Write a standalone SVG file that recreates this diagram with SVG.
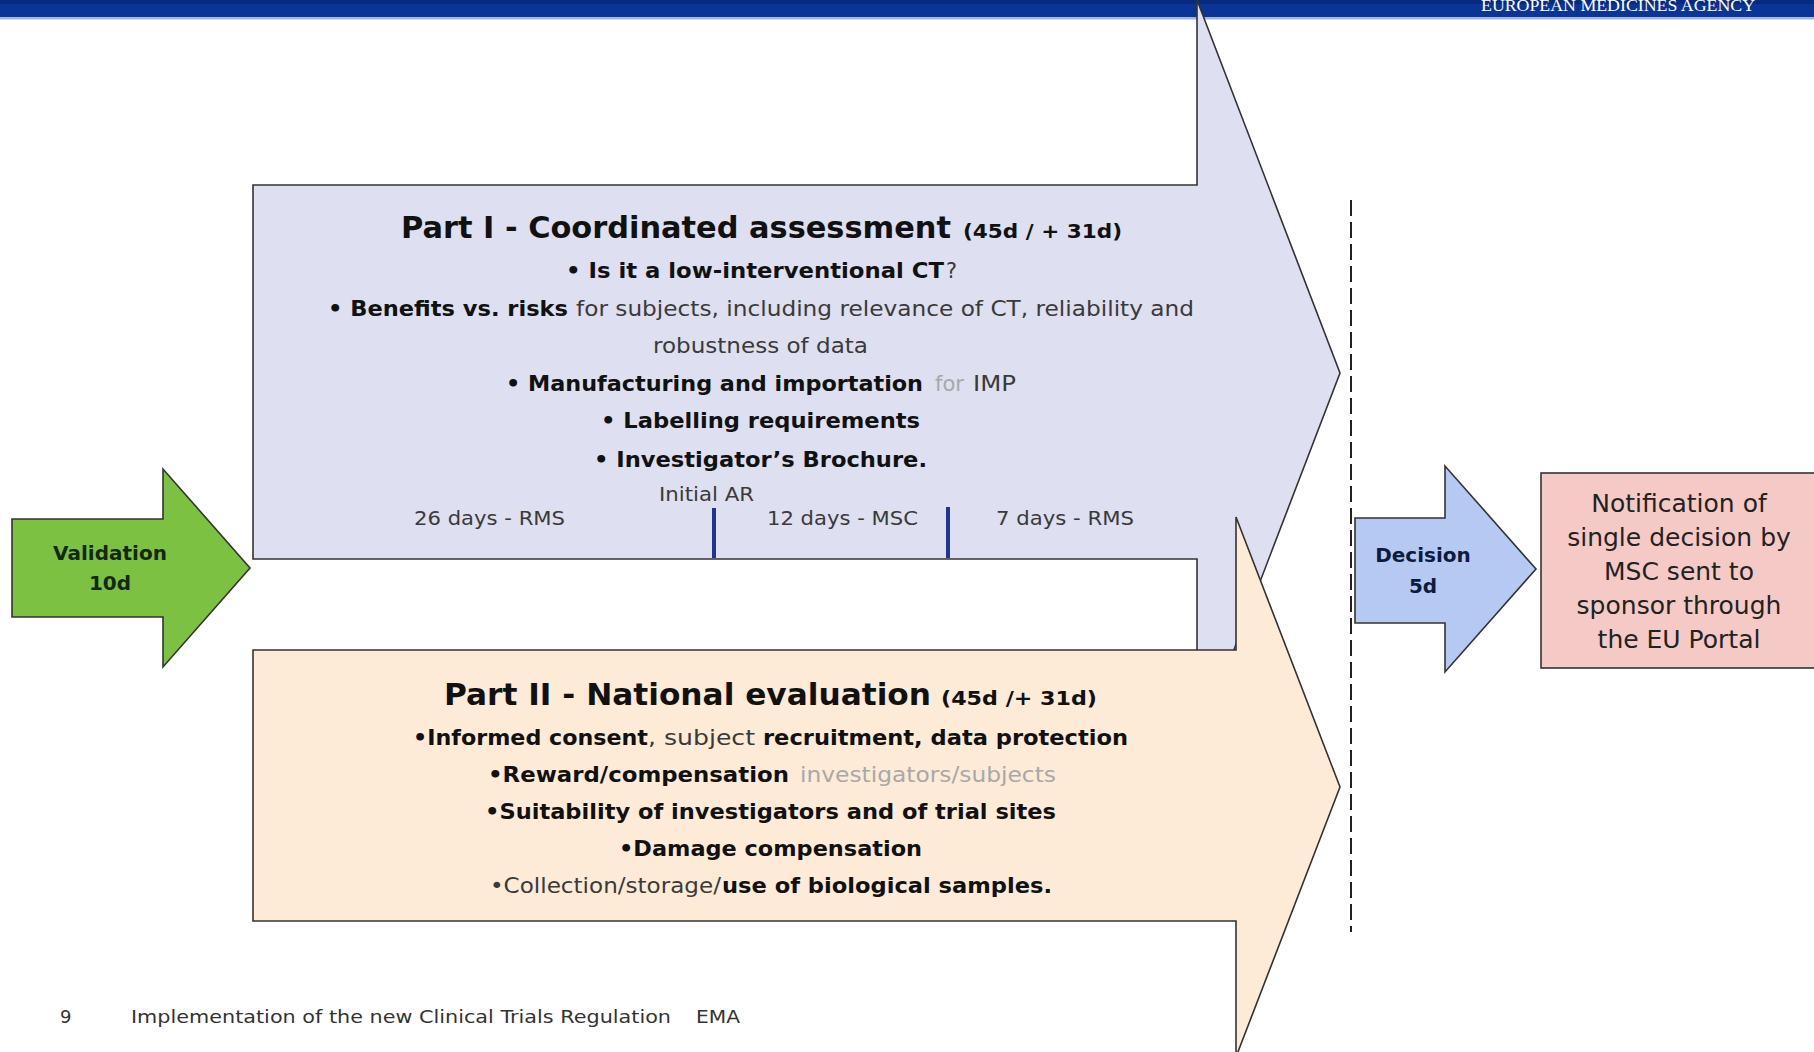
<svg xmlns="http://www.w3.org/2000/svg" width="1814" height="1052" viewBox="0 0 1814 1052">
  <style>
    .b { font-family: "DejaVu Sans", Verdana, sans-serif; font-weight: bold; fill: #111; }
    .n { font-family: "DejaVu Sans", Verdana, sans-serif; font-weight: normal; fill: #3a3a3a; }
    .faint { fill: #a8a8a8; }
    .shape { stroke: #333; stroke-width: 1.6; stroke-linejoin: miter; }
    .tick { fill: #1f3590; }
  </style>

  <rect x="0" y="0" width="1814" height="1052" fill="#ffffff"/>

  <!-- agency banner -->
  <g id="header">
    <rect x="0" y="0" width="1814" height="17" fill="#0a3596"/>
    <rect x="0" y="0" width="1814" height="4" fill="#062a7e"/>
    <rect x="0" y="17" width="1814" height="2.5" fill="#9db6e2"/>
    <text x="1481" y="11" font-family="'Liberation Serif', serif" font-size="16" fill="#ffffff" textLength="274" lengthAdjust="spacingAndGlyphs">EUROPEAN MEDICINES AGENCY</text>
  </g>

  <!-- Part I: coordinated assessment arrow -->
  <g id="part1">
    <polygon class="shape" fill="#dedff0" points="253,185 1197,185 1197,0 1340,373 1197,746 1197,559 253,559"/>
    <text class="b" x="401" y="238" font-size="30.5" textLength="550" lengthAdjust="spacingAndGlyphs">Part I - Coordinated assessment</text>
    <text class="b" x="963" y="238" font-size="19" textLength="159" lengthAdjust="spacingAndGlyphs">(45d / + 31d)</text>

    <text class="b" x="566" y="278" font-size="22" textLength="378" lengthAdjust="spacingAndGlyphs">• Is it a low-interventional CT</text>
    <text class="n" x="946" y="278" font-size="22" textLength="11" lengthAdjust="spacingAndGlyphs">?</text>

    <text class="b" x="328" y="316" font-size="22" textLength="240" lengthAdjust="spacingAndGlyphs">• Benefits vs. risks</text>
    <text class="n" x="576" y="316" font-size="22" textLength="618" lengthAdjust="spacingAndGlyphs">for subjects, including relevance of CT, reliability and</text>

    <text class="n" x="653" y="353" font-size="22" textLength="215" lengthAdjust="spacingAndGlyphs">robustness of data</text>

    <text class="b" x="506" y="391" font-size="22" textLength="417" lengthAdjust="spacingAndGlyphs">• Manufacturing and importation</text>
    <text class="n faint" x="935" y="391" font-size="22" textLength="29" lengthAdjust="spacingAndGlyphs">for</text>
    <text class="n" x="973" y="391" font-size="22" textLength="43" lengthAdjust="spacingAndGlyphs">IMP</text>

    <text class="b" x="601" y="428" font-size="22" textLength="319" lengthAdjust="spacingAndGlyphs">• Labelling requirements</text>
    <text class="b" x="594" y="467" font-size="22" textLength="333" lengthAdjust="spacingAndGlyphs">• Investigator’s Brochure.</text>

    <text class="n" x="659" y="501" font-size="20" fill="#555" textLength="95" lengthAdjust="spacingAndGlyphs">Initial AR</text>
    <text class="n" x="414" y="525" font-size="20" textLength="151" lengthAdjust="spacingAndGlyphs">26 days - RMS</text>
    <text class="n" x="767" y="525" font-size="20" textLength="151" lengthAdjust="spacingAndGlyphs">12 days - MSC</text>
    <text class="n" x="996" y="525" font-size="20" textLength="138" lengthAdjust="spacingAndGlyphs">7 days - RMS</text>

    <rect class="tick" x="712" y="508" width="4" height="50"/>
    <rect class="tick" x="946" y="507" width="4" height="51"/>
  </g>

  <!-- Part II: national evaluation arrow -->
  <g id="part2">
    <polygon class="shape" fill="#fdebd8" points="253,650 1236,650 1236,517 1340,787 1236,1057 1236,921 253,921"/>
    <text class="b" x="444" y="705" font-size="30.5" textLength="487" lengthAdjust="spacingAndGlyphs">Part II - National evaluation</text>
    <text class="b" x="941" y="705" font-size="19" textLength="156" lengthAdjust="spacingAndGlyphs">(45d /+ 31d)</text>

    <text class="b" x="413" y="745" font-size="22" textLength="235" lengthAdjust="spacingAndGlyphs">•Informed consent</text>
    <text class="n" x="648" y="745" font-size="22" textLength="107" lengthAdjust="spacingAndGlyphs">, subject</text>
    <text class="b" x="763" y="745" font-size="22" textLength="365" lengthAdjust="spacingAndGlyphs">recruitment, data protection</text>

    <text class="b" x="488" y="782" font-size="22" textLength="301" lengthAdjust="spacingAndGlyphs">•Reward/compensation</text>
    <text class="n faint" x="800" y="782" font-size="22" textLength="256" lengthAdjust="spacingAndGlyphs">investigators/subjects</text>

    <text class="b" x="485" y="819" font-size="22" textLength="571" lengthAdjust="spacingAndGlyphs">•Suitability of investigators and of trial sites</text>
    <text class="b" x="619" y="856" font-size="22" textLength="303" lengthAdjust="spacingAndGlyphs">•Damage compensation</text>

    <text class="n" x="490" y="893" font-size="22" textLength="231" lengthAdjust="spacingAndGlyphs">•Collection/storage/</text>
    <text class="b" x="722" y="893" font-size="22" textLength="330" lengthAdjust="spacingAndGlyphs">use of biological samples.</text>
  </g>

  <!-- validation step -->
  <g id="validation">
    <polygon class="shape" fill="#7cc142" points="12,519 163,519 163,469 250,568 163,667 163,617 12,617"/>
    <text class="b" x="110" y="560" font-size="20" text-anchor="middle" style="fill:#152810">Validation</text>
    <text class="b" x="110" y="590" font-size="20" text-anchor="middle" style="fill:#152810">10d</text>
  </g>

  <!-- separator between assessment and decision -->
  <g id="connectors">
    <line x1="1351" y1="200" x2="1351" y2="932" stroke="#222" stroke-width="2" stroke-dasharray="16 6"/>
  </g>

  <!-- decision step -->
  <g id="decision">
    <polygon class="shape" fill="#b6c9f2" points="1355,518 1445,518 1445,466 1536,569 1445,672 1445,623 1355,623"/>
    <text class="b" x="1423" y="562" font-size="20" text-anchor="middle" style="fill:#0e1a3e">Decision</text>
    <text class="b" x="1423" y="593" font-size="20" text-anchor="middle" style="fill:#0e1a3e">5d</text>
  </g>

  <!-- notification outcome -->
  <g id="notification">
    <rect class="shape" fill="#f5cac6" x="1541" y="473" width="300" height="195"/>
    <g class="n" font-size="25" text-anchor="middle" style="fill:#222">
      <text x="1679" y="512">Notification of</text>
      <text x="1679" y="546">single decision by</text>
      <text x="1679" y="580">MSC sent to</text>
      <text x="1679" y="614">sponsor through</text>
      <text x="1679" y="648">the EU Portal</text>
    </g>
  </g>

  <!-- slide footer -->
  <g id="footer">
    <text class="n" x="60" y="1023" font-size="18" style="fill:#333">9</text>
    <text class="n" x="131" y="1023" font-size="18" textLength="540" lengthAdjust="spacingAndGlyphs" style="fill:#333">Implementation of the new Clinical Trials Regulation</text>
    <text class="n" x="696" y="1023" font-size="18" textLength="44" lengthAdjust="spacingAndGlyphs" style="fill:#333">EMA</text>
  </g>
</svg>
